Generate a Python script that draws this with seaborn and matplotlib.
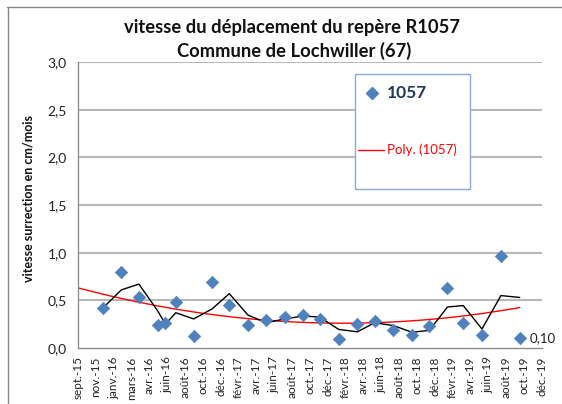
import numpy as np
import pandas as pd
import matplotlib
matplotlib.use("Agg")
import matplotlib.pyplot as plt
import matplotlib.dates as mdates
import seaborn as sns
from matplotlib.lines import Line2D
from matplotlib.patches import Rectangle

# ---------------- data ----------------
dates = ["2015-11-26", "2016-01-27", "2016-03-26", "2016-05-28", "2016-06-23",
         "2016-07-28", "2016-09-26", "2016-11-27", "2017-01-24", "2017-03-28",
         "2017-05-28", "2017-07-30", "2017-09-29", "2017-11-24", "2018-01-27",
         "2018-03-31", "2018-05-28", "2018-07-30", "2018-10-01", "2018-11-28",
         "2019-01-28", "2019-03-22", "2019-05-24", "2019-07-27", "2019-09-28"]
vitesse = [0.42, 0.80, 0.54, 0.24, 0.26, 0.48, 0.13, 0.69, 0.45, 0.24,
           0.29, 0.32, 0.35, 0.30, 0.09, 0.25, 0.28, 0.19, 0.14, 0.23,
           0.63, 0.26, 0.14, 0.96, 0.10]
tick_labels = ["sept.-15", "nov.-15", "janv.-16", "mars-16", "avr.-16", "juin-16",
               "août-16", "oct.-16", "déc.-16", "févr.-17", "avr.-17", "juin-17",
               "août-17", "oct.-17", "déc.-17", "févr.-18", "avr.-18", "juin-18",
               "août-18", "oct.-18", "déc.-18", "févr.-19", "avr.-19", "juin-19",
               "août-19", "oct.-19", "déc.-19"]
axis_start = "2015-09-03"
tick_step_days = 60
series_name = "1057"
title = "vitesse du déplacement du repère R1057\nCommune de Lochwiller (67)"
ylabel = "vitesse surrection en cm/mois"

df = pd.DataFrame({"date": pd.to_datetime(dates), "v": vitesse})
df["ma"] = df["v"].rolling(2, min_periods=1).mean()

tick_dates = pd.date_range(axis_start, periods=len(tick_labels), freq=f"{tick_step_days}D")

# polynomial (order 2) trend
xnum = mdates.date2num(df["date"])
x0 = xnum[0]
coef = np.polyfit(xnum - x0, df["v"], 2)
xs_num = np.linspace(mdates.date2num(tick_dates[0]), xnum[-1], 200)
trend = pd.DataFrame({"date": mdates.num2date(xs_num), "y": np.polyval(coef, xs_num - x0)})
trend["date"] = pd.to_datetime(trend["date"]).dt.tz_localize(None)

# ---------------- style ----------------
sns.set_style("white")
plt.rcParams["font.family"] = ["Lato", "DejaVu Sans"]

W, H = 562, 404
fig = plt.figure(figsize=(W / 100, H / 100), dpi=100)
ax = fig.add_axes([78 / W, 1 - 348 / H, (541.7 - 78) / W, (348 - 62) / H])

grid_c = "#b8b8b8"
axis_c = "#868686"

for yv in np.arange(0.5, 3.01, 0.5):
    ax.axhline(yv, color=grid_c, lw=1.5, zorder=0)

sns.lineplot(data=trend, x="date", y="y", ax=ax, color="#ff0000", lw=1.0, zorder=2)
sns.lineplot(data=df, x="date", y="ma", ax=ax, color="black", lw=1.0, zorder=3)
sns.scatterplot(data=df, x="date", y="v", ax=ax, marker="D", s=40,
                color="#4f81bd", edgecolor="#4f81bd", linewidth=0.5, zorder=4)

last = df.iloc[-1]
ax.annotate(f"{last['v']:.2f}".replace(".", ","), xy=(last["date"], last["v"]),
            xytext=(7, 0), textcoords="offset points", va="center", ha="left",
            fontsize=9.5, color="#222222")

ax.set_ylim(0, 3)
ax.set_xlim(tick_dates[0], tick_dates[-1])
yt = np.arange(0, 3.01, 0.5)
ax.set_yticks(yt)
ax.set_yticklabels([f"{v:.1f}".replace(".", ",") for v in yt], fontsize=10, color="#222222")
ax.set_xticks(tick_dates)
ax.set_xticklabels(tick_labels, rotation=90, fontsize=8.5, color="#222222")
ax.tick_params(axis="both", direction="out", length=4, width=0.8, color=axis_c, pad=2)
ax.tick_params(axis="y", pad=4)

for s in ["top", "right"]:
    ax.spines[s].set_visible(False)
for s in ["left", "bottom"]:
    ax.spines[s].set_color(axis_c)
    ax.spines[s].set_linewidth(0.9)

ax.set_xlabel("")
ax.set_ylabel("")
fig.text(29 / W, 1 - 199 / H, ylabel, rotation=90, ha="center", va="center",
         fontsize=9, fontweight="bold", color="#111111")

l1, l2 = title.split("\n")
fig.text(292 / W, 1 - 27 / H, l1, ha="center", va="center", fontsize=13.2,
         fontweight="bold", color="#111111")
fig.text(294 / W, 1 - 51 / H, l2, ha="center", va="center", fontsize=13.2,
         fontweight="bold", color="#111111")

# legend box
fig.add_artist(Rectangle((355 / W, 1 - 189 / H), (470 - 355) / W, (189 - 74) / H,
                         transform=fig.transFigure, facecolor="white",
                         edgecolor="#8ea9d6", lw=1.0, zorder=5))
fig.add_artist(Line2D([372 / W], [1 - 92.5 / H], marker="D", ms=6.5, color="#4f81bd",
                      transform=fig.transFigure, zorder=6))
fig.text(387 / W, 1 - 92.5 / H, series_name, ha="left", va="center", fontsize=12.5,
         fontweight="bold", color="#1f3a60", zorder=6)
fig.add_artist(Line2D([358 / W, 384 / W], [1 - 149.5 / H, 1 - 149.5 / H], color="#ff0000",
                      lw=1.0, transform=fig.transFigure, zorder=6))
fig.text(387 / W, 1 - 149.5 / H, f"Poly. ({series_name})", ha="left", va="center",
         fontsize=9.5, color="#ff0000", zorder=6)

# outer chart border (top and left visible)
fig.add_artist(Line2D([7 / W, 1], [1 - 6.5 / H, 1 - 6.5 / H], color=axis_c, lw=1.0,
                      transform=fig.transFigure))
fig.add_artist(Line2D([7.5 / W, 7.5 / W], [0, 1 - 6.5 / H], color=axis_c, lw=1.0,
                      transform=fig.transFigure))

fig.savefig("out.png", dpi=100)
